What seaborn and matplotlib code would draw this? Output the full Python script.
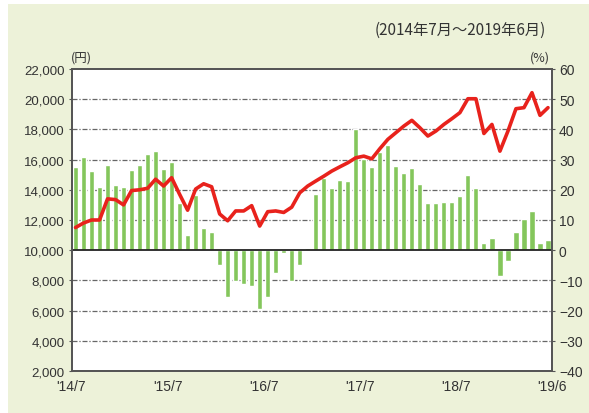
import numpy as np
import pandas as pd
import seaborn as sns
import matplotlib
matplotlib.use('Agg')
import matplotlib.pyplot as plt
from matplotlib.patches import Rectangle

# monthly data, Jul 2014 - Jun 2019
months = pd.period_range('2014-07', '2019-06', freq='M').strftime('%Y-%m').tolist()

# price (yen, left axis) - red line
price = [11500, 11800, 12000, 12000, 13400, 13350, 13000, 13950, 14000, 14100,
         14700, 14250, 14800, 13700, 12650, 14050, 14400, 14200, 12400, 11950,
         12600, 12600, 12950, 11600, 12550, 12600, 12500, 12850, 13800, 14250,
         14580, 14900, 15240, 15520, 15790, 16120, 16230, 16050, 16720, 17340,
         17780, 18220, 18600, 18110, 17560, 17890, 18330, 18710, 19110, 20030,
         20030, 17730, 18330, 16560, 17890, 19370, 19440, 20430, 18930, 19440]

# year-on-year change (%, right axis) - green bars
pct = [27.4, 30.7, 26.1, 20.8, 28.2, 21.7, 20.8, 26.5, 28.2, 32.0,
       32.7, 26.9, 29.3, 15.5, 5.0, 18.2, 7.5, 5.9, -4.9, -15.4,
       -10.2, -11.3, -12.0, -19.6, -15.4, -7.4, -1.0, -10.2, -4.9, 0.6,
       18.5, 24.0, 20.7, 23.4, 22.9, 40.0, 30.1, 27.6, 32.5, 35.0,
       27.8, 25.6, 27.3, 22.0, 15.5, 15.5, 15.9, 15.9, 17.9, 24.9,
       20.7, 2.4, 3.9, -8.6, -3.6, 6.1, 10.4, 13.1, 2.4, 3.3]

xtick_labels = ["'14/7", "'15/7", "'16/7", "'17/7", "'18/7", "'19/6"]
yen_ticks = list(range(2000, 22001, 2000))
pct_ticks = list(range(-40, 61, 10))

df = pd.DataFrame({'month': months, 'price': price, 'pct': pct})
df['i'] = range(len(df))

sns.set_style('white')
plt.rcParams['font.family'] = ['Liberation Sans', 'Noto Sans CJK JP', 'DejaVu Sans']
plt.rcParams['axes.unicode_minus'] = True

fig = plt.figure(figsize=(5.89, 4.14), dpi=100)
fig.patch.set_facecolor('white')
fig.patches.append(Rectangle((8 / 589, 0), 581 / 589, 409 / 414, transform=fig.transFigure,
                             facecolor='#edf2d9', edgecolor='none', zorder=-10))

ax = fig.add_axes([71.5 / 589, 1 - 372 / 414, 480.5 / 589, 302 / 414])
ax.set_facecolor('white')

# bars on the percent axis
sns.barplot(data=df, x='i', y='pct', ax=ax, color='#84c65c', saturation=1, width=0.64, zorder=2)
ax.set_ylim(-40, 60)
ax.set_xlim(-0.5, 59.5)
ax.set_yticks(pct_ticks)
for t in pct_ticks:
    if t == 0:
        ax.axhline(0, color='#222222', lw=1.3, zorder=3)
    elif -40 < t < 60:
        ax.axhline(t, color='#666666', lw=0.9, ls=(0, (4, 1.5, 1, 1.5)), zorder=1)
ax.set_xlabel('')
ax.set_ylabel('')

# line on the yen axis
ax2 = ax.twinx()
sns.lineplot(data=df, x='i', y='price', ax=ax2, color='#e8221c', linewidth=2.6, zorder=5)
ax2.set_ylim(2000, 22000)
ax2.set_yticks(yen_ticks)
ax2.set_yticklabels(['{:,}'.format(v) for v in yen_ticks])
ax2.set_xlabel('')
ax2.set_ylabel('')
ax2.set_xlim(-0.5, 59.5)

# swap sides: yen on the left, percent on the right
ax2.yaxis.tick_left()
ax.yaxis.tick_right()

ax.set_xticks([-0.5, 11.5, 23.5, 35.5, 47.5, 59.5])
ax.set_xticklabels(xtick_labels)

for a in (ax, ax2):
    for s in a.spines.values():
        s.set_color('#555555')
        s.set_linewidth(1.3)
ax.tick_params(axis='x', direction='in', length=4, color='#555555', labelsize=10,
               labelcolor='#333333', pad=6)
ax.tick_params(axis='y', direction='out', length=2, color='#555555', labelsize=10,
               labelcolor='#333333', pad=3)
ax2.tick_params(axis='y', direction='out', length=2, color='#555555', labelsize=9.5,
                labelcolor='#333333', pad=3)

fig.text(546 / 589, 1 - 30 / 414, '(2014年7月～2019年6月)', ha='right', va='center',
         fontsize=11, color='#333333', family=['Noto Sans CJK JP'])
fig.text(71 / 589, 1 - 58 / 414, '(円)', ha='left', va='center',
         fontsize=9, color='#333333', family=['Noto Sans CJK JP'])
fig.text(550 / 589, 1 - 58 / 414, '(%)', ha='right', va='center',
         fontsize=9, color='#333333', family=['Noto Sans CJK JP'])

fig.savefig('out.png', dpi=100)
